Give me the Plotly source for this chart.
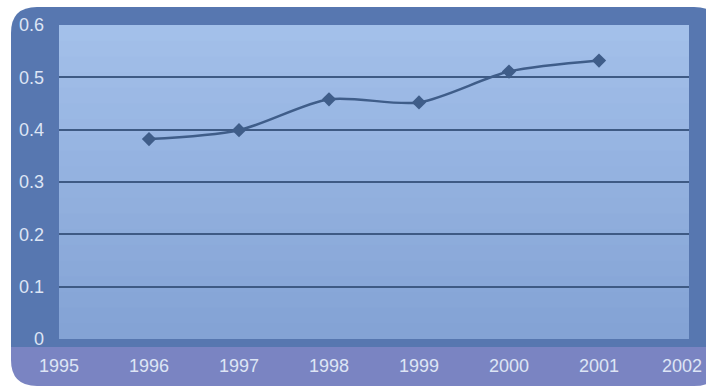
import plotly.graph_objects as go

years = [1996, 1997, 1998, 1999, 2000, 2001]
values = [0.382, 0.399, 0.458, 0.452, 0.511, 0.532]
x_ticks = [1995, 1996, 1997, 1998, 1999, 2000, 2001, 2002]
x_labels = ["1995", "1996", "1997", "1998", "1999", "2000", "2001", "2002"]
y_ticks = [0, 0.1, 0.2, 0.3, 0.4, 0.5, 0.6]
y_labels = ["0", "0.1", "0.2", "0.3", "0.4", "0.5", "0.6"]

W, H = 706, 389
L, R, T, B = 59, 17, 25, 50

fig = go.Figure()
fig.add_trace(go.Scatter(
    x=years, y=values, mode="lines+markers",
    line=dict(shape="spline", smoothing=0.8, color="#3f5d89", width=2.5),
    marker=dict(symbol="diamond", size=11, color="#3f5d89"),
    showlegend=False, hoverinfo="skip"))

def px(x):
    return (x - L) / (W - L - R)

def py(y):
    return 1 - (y - T) / (H - T - B)

def P(x, y):
    return f"{px(x):.5f},{py(y):.5f}"

shapes = []
x0, x1, y0, y1, r = 11, 720, 7, 386, 26
ymid = 347
upper = (f"M {P(x0+r, y0)} L {P(x1-r, y0)} Q {P(x1, y0)} {P(x1, y0+r)} "
         f"L {P(x1, ymid+1)} L {P(x0, ymid+1)} L {P(x0, y0+r)} Q {P(x0, y0)} {P(x0+r, y0)} Z")
lower = (f"M {P(x0, ymid)} L {P(x1, ymid)} L {P(x1, y1-r)} Q {P(x1, y1)} {P(x1-r, y1)} "
         f"L {P(x0+r, y1)} Q {P(x0, y1)} {P(x0, y1-r)} Z")
shapes.append(dict(type="path", path=upper, xref="paper", yref="paper",
                   line=dict(width=0), fillcolor="#5777b0", layer="below"))
shapes.append(dict(type="path", path=lower, xref="paper", yref="paper",
                   line=dict(width=0), fillcolor="#7a84c2", layer="below"))

# plot area vertical gradient
m = 20
for i in range(m):
    t = i / (m - 1)
    c0 = (0xa3, 0xc0, 0xea)
    c1 = (0x84, 0xa3, 0xd5)
    c = tuple(int(c0[k] + (c1[k] - c0[k]) * t) for k in range(3))
    top = 1 - i / m
    bot = max(0, 1 - (i + 1) / m - 0.004)
    shapes.append(dict(type="rect", xref="x domain", yref="y domain",
                       x0=0, x1=1, y0=bot, y1=top,
                       line=dict(width=0), fillcolor="rgb(%d,%d,%d)" % c, layer="below"))

# last x label sits at the right edge; keep it whole by right-aligning it to the edge
shown_labels = x_labels[:-1] + [""]
annotations = [dict(text=x_labels[-1], xref="paper", yref="paper",
                    x=px(W - 2), y=0, xanchor="right", yanchor="top",
                    yshift=-15, showarrow=False,
                    font=dict(family="Liberation Sans, Arial, sans-serif", size=18, color="#dde5f5"))]

fig.update_layout(
    width=W, height=H,
    margin=dict(l=L, r=R, t=T, b=B, autoexpand=False),
    paper_bgcolor="white",
    plot_bgcolor="rgba(0,0,0,0)",
    shapes=shapes,
    annotations=annotations,
    font=dict(family="Liberation Sans, Arial, sans-serif", size=18, color="#dde5f5"),
    xaxis=dict(range=[1995, 2002], tickvals=x_ticks, ticktext=shown_labels,
               showgrid=False, zeroline=False, showline=False, ticks="",
               ticklabelstandoff=14, ticklabeloverflow="allow",
               automargin=False, fixedrange=True),
    yaxis=dict(range=[0, 0.6], tickvals=y_ticks, ticktext=y_labels,
               showgrid=True, gridcolor="#3e5a84", gridwidth=2, zeroline=False,
               showline=False, ticks="", ticklabelstandoff=14,
               ticklabeloverflow="allow", automargin=False, fixedrange=True),
)

fig.write_html("out.html", config={"displayModeBar": False},
               post_script="document.body.style.margin='0px';document.body.style.overflow='hidden';")
